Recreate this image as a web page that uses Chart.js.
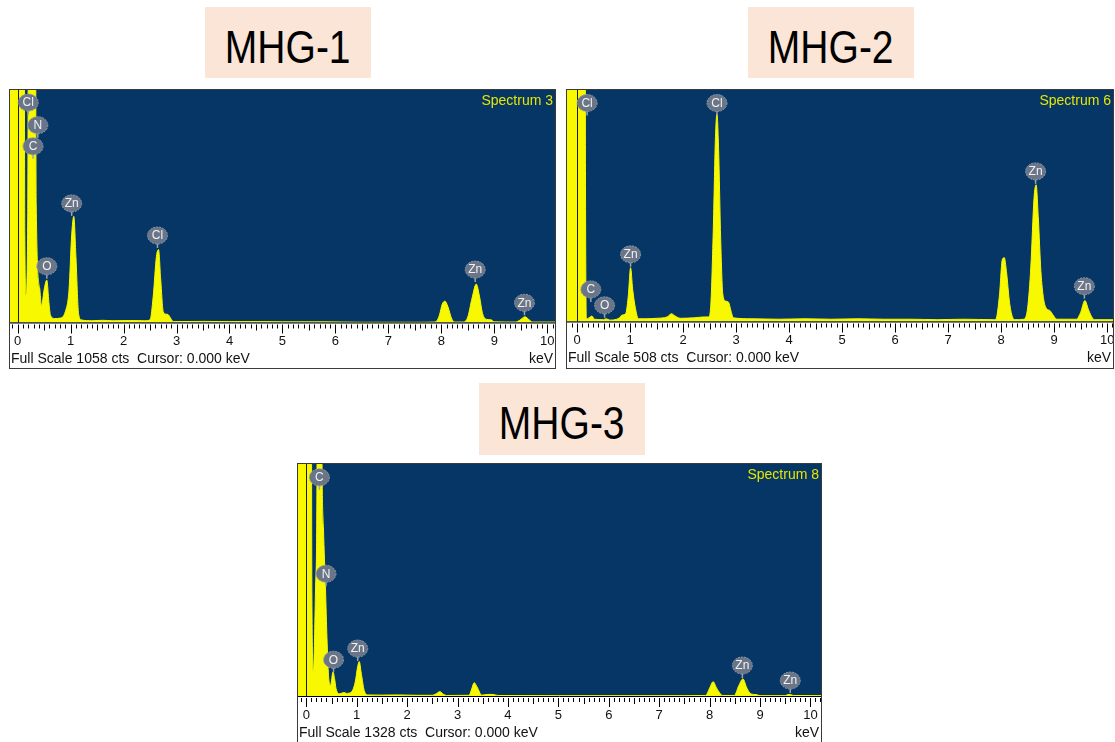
<!DOCTYPE html>
<html>
<head>
<meta charset="utf-8">
<script src="https://cdn.jsdelivr.net/npm/chart.js@4.4.1/dist/chart.umd.min.js"></script>
<style>
  body { margin: 0; width: 1115px; height: 742px; background: #fff; position: relative; overflow: hidden; }
  .title {
    position: absolute; background: #FBE5D6; width: 166px; height: 71px;
    display: flex; align-items: center; justify-content: center;
    font-family: "Liberation Sans", Arial, sans-serif;
    font-size: 47px; color: #000; padding-top: 7px; box-sizing: border-box;
  }
  .title span { display: inline-block; transform: scaleX(0.83); }
  .panel { position: absolute; border: 1px solid #3a3a3a; background: #fff; }
  .panel canvas { display: block; }
</style>
</head>
<body>
<div class="title" style="left:205px; top:7px;"><span>MHG-1</span></div>
<div class="title" style="left:748px; top:7px;"><span>MHG-2</span></div>
<div class="title" style="left:479px; top:383px; height:72px;"><span>MHG-3</span></div>

<div class="panel" style="left:9px; top:89px; width:545px; height:278px;"><canvas id="spec1"></canvas></div>
<div class="panel" style="left:566px; top:89px; width:546px; height:278px;"><canvas id="spec2"></canvas></div>
<div class="panel" style="left:297px; top:463px; width:523px; height:278px;"><canvas id="spec3"></canvas></div>

<script>
// MHG-1 (Spectrum 3), [keV, counts]; values above full scale are clipped peaks
const mhg1Spectrum = [
  [-0.3, 3000], [0.11, 3000], [0.135, 400], [0.16, 126], [0.19, 500], [0.22, 3000],
  [0.32, 3000], [0.35, 535], [0.415, 157], [0.45, 75], [0.5, 150], [0.55, 193],
  [0.59, 90], [0.62, 33], [0.7, 18], [0.8, 20], [0.9, 50], [0.97, 150],
  [1.02, 400], [1.06, 483], [1.1, 300], [1.15, 40], [1.2, 12], [1.4, 8],
  [1.6, 10], [1.8, 8], [2.1, 9], [2.4, 8], [2.5, 12], [2.56, 120],
  [2.62, 300], [2.66, 332], [2.7, 200], [2.75, 48], [2.8, 38], [2.84, 36],
  [2.9, 15], [2.94, 4], [3.5, 5], [4.0, 4], [4.5, 4], [5.0, 3], [5.8, 3],
  [6.5, 1], [7.5, 1], [7.88, 2], [7.96, 30], [8.02, 85], [8.07, 97], [8.12, 75],
  [8.2, 15], [8.26, 2], [8.42, 2], [8.5, 25], [8.58, 110], [8.66, 175],
  [8.72, 120], [8.78, 40], [8.86, 14], [8.94, 12], [9.0, 3], [9.4, 2],
  [9.48, 10], [9.58, 26], [9.66, 12], [9.72, 2], [10.3, 2]
];
const mhg1Labels = [
  ['Cl', 0.2, 944], ['N', 0.38, 841], ['C', 0.29, 745], ['O', 0.55, 199],
  ['Zn', 1.02, 485], ['Cl', 2.64, 339], ['Zn', 8.64, 184], ['Zn', 9.57, 33]
];

// MHG-2 (Spectrum 6)
const mhg2Spectrum = [
  [-0.3, 2000], [0.14, 2000], [0.16, 300], [0.18, 6], [0.25, 10], [0.28, 12],
  [0.33, 5], [0.5, 4], [0.55, 6], [0.62, 3], [0.75, 5], [0.8, 8], [0.85, 14],
  [0.92, 18], [0.97, 60], [1.01, 118], [1.05, 70], [1.1, 30], [1.16, 6],
  [1.3, 6], [1.5, 7], [1.7, 10], [1.78, 17], [1.85, 12], [1.95, 7], [2.2, 8],
  [2.4, 10], [2.48, 10], [2.52, 30], [2.57, 200], [2.61, 400], [2.64, 455],
  [2.67, 380], [2.71, 180], [2.75, 60], [2.8, 45], [2.86, 42], [2.9, 25],
  [2.95, 8], [3.3, 6], [3.8, 5], [4.3, 6], [4.8, 5], [5.3, 6], [5.8, 5],
  [6.3, 5], [6.8, 4], [7.3, 5], [7.85, 4], [7.9, 5], [7.97, 60], [8.02, 135],
  [8.06, 140], [8.1, 110], [8.16, 40], [8.22, 8], [8.26, 4], [8.43, 5],
  [8.5, 30], [8.56, 120], [8.62, 270], [8.66, 300], [8.7, 230], [8.75, 110],
  [8.8, 50], [8.86, 28], [8.92, 24], [8.98, 14], [9.05, 5], [9.42, 5],
  [9.5, 20], [9.58, 46], [9.65, 25], [9.72, 8], [9.76, 4], [10.3, 4]
];
const mhg2Labels = [
  ['Cl', 0.19, 452], ['C', 0.26, 43], ['O', 0.52, 8], ['Zn', 1.01, 120],
  ['Cl', 2.64, 452], ['Zn', 8.65, 302], ['Zn', 9.57, 50]
];

// MHG-3 (Spectrum 8)
const mhg3Spectrum = [
  [-0.3, 4000], [0.09, 4000], [0.11, 600], [0.14, 138], [0.18, 579],
  [0.21, 1156], [0.23, 3000], [0.29, 3000], [0.31, 1400], [0.34, 962],
  [0.38, 617], [0.41, 330], [0.44, 119], [0.48, 61], [0.53, 138], [0.56, 100],
  [0.59, 42], [0.66, 13], [0.75, 20], [0.8, 15], [0.9, 25], [0.97, 80],
  [1.02, 170], [1.05, 197], [1.09, 130], [1.15, 30], [1.23, 6], [1.5, 5],
  [1.8, 6], [2.2, 4], [2.5, 4], [2.57, 12], [2.65, 25], [2.72, 10], [2.78, 3],
  [3.23, 4], [3.28, 40], [3.33, 76], [3.39, 50], [3.48, 5], [3.6, 9],
  [3.7, 9], [3.8, 3], [5.0, 2], [7.5, 2], [7.92, 3], [8.0, 45], [8.07, 82],
  [8.14, 45], [8.26, 3], [8.49, 3], [8.58, 60], [8.66, 98], [8.74, 45],
  [8.82, 12], [8.92, 8], [9.0, 2], [9.5, 2], [9.55, 8], [9.6, 9], [9.66, 3],
  [10.4, 2]
];
const mhg3Labels = [
  ['C', 0.26, 1180], ['N', 0.39, 628], ['O', 0.54, 136], ['Zn', 1.02, 200],
  ['Zn', 8.65, 103], ['Zn', 9.6, 17]
];

const PLOT_BG = '#053665';
const PEAK_YELLOW = '#F8F800';
const AXIS_FONT = '"Liberation Sans", Arial, sans-serif';

// Draws the blue plot, keV ruler, badges and footer text like the EDS software
const edsPlugin = (info) => ({
  id: 'eds',
  beforeDraw(chart) {
    const { ctx, chartArea: a } = chart;
    ctx.save();
    ctx.fillStyle = PLOT_BG;
    ctx.fillRect(a.left, a.top, a.right - a.left, a.bottom - a.top);
    ctx.restore();
  },
  afterDatasetsDraw(chart) {
    const { ctx, chartArea: a, scales } = chart;
    const xs = scales.x;
    const ys = scales.y;
    ctx.save();

    // cursor at 0 keV
    const cx = Math.round(xs.getPixelForValue(0)) + 0.5;
    ctx.strokeStyle = '#1a1a1a';
    ctx.lineWidth = 1;
    ctx.beginPath();
    ctx.moveTo(cx, a.top);
    ctx.lineTo(cx, a.bottom);
    ctx.stroke();

    // element badges
    info.labels.forEach(([el, kev, cts]) => {
      const x = xs.getPixelForValue(kev);
      const y = ys.getPixelForValue(cts);
      ctx.strokeStyle = '#9aa3ae';
      ctx.lineWidth = 1.5;
      ctx.beginPath();
      ctx.moveTo(x, y - 5);
      ctx.lineTo(x, y);
      ctx.stroke();
      ctx.beginPath();
      ctx.ellipse(x, y - 12.5, 10, 8.5, 0, 0, Math.PI * 2);
      ctx.fillStyle = '#6a7687';
      ctx.fill();
      ctx.setLineDash([2, 1]);
      ctx.lineWidth = 1;
      ctx.strokeStyle = '#8f99a6';
      ctx.stroke();
      ctx.setLineDash([]);
      ctx.fillStyle = '#f2f2f2';
      ctx.font = '12px ' + AXIS_FONT;
      ctx.textAlign = 'center';
      ctx.textBaseline = 'middle';
      ctx.fillText(el, x, y - 12);
    });

    // spectrum name
    ctx.fillStyle = '#e6e600';
    ctx.font = '14px ' + AXIS_FONT;
    ctx.textAlign = 'right';
    ctx.textBaseline = 'middle';
    ctx.fillText(info.name, a.right - 2, a.top + 11);
    ctx.restore();
  },
  afterDraw(chart) {
    const { ctx, chartArea: a, scales, width } = chart;
    const xs = scales.x;
    ctx.save();
    ctx.strokeStyle = '#000';
    ctx.lineWidth = 1;
    ctx.beginPath();
    ctx.moveTo(0, a.bottom + 0.5);
    ctx.lineTo(width, a.bottom + 0.5);
    ctx.stroke();

    // ruler: 0.1 keV minor, 0.5 mid, 1 keV major
    ctx.beginPath();
    for (let i = -5; i <= 105; i++) {
      const v = i / 10;
      if (v < xs.min || v > xs.max) continue;
      const x = Math.round(xs.getPixelForValue(v)) + 0.5;
      const len = i % 10 === 0 ? 9 : i % 5 === 0 ? 6 : 4;
      ctx.moveTo(x, a.bottom + 2);
      ctx.lineTo(x, a.bottom + 2 + len);
    }
    ctx.stroke();

    ctx.fillStyle = '#111';
    ctx.font = '13px ' + AXIS_FONT;
    ctx.textAlign = 'center';
    ctx.textBaseline = 'middle';
    for (let k = 0; k <= 10; k++) {
      ctx.fillText(String(k), xs.getPixelForValue(k), a.bottom + 19);
    }

    ctx.font = '14px ' + AXIS_FONT;
    ctx.textAlign = 'left';
    ctx.fillText('Full Scale ' + info.fullScale + ' cts  Cursor: 0.000 keV', 1, a.bottom + 37);
    ctx.textAlign = 'right';
    ctx.fillText('keV', width - 2, a.bottom + 37);
    ctx.restore();
  }
});

const makeChart = (canvasId, spectrum, labels, name, fullScale, xMin, xMax, axisH) => {
  const ctx = document.getElementById(canvasId).getContext('2d');
  return new Chart(ctx, {
    type: 'line',
    data: {
      datasets: [{
        data: spectrum.map(([x, y]) => ({ x, y })),
        borderColor: PEAK_YELLOW,
        backgroundColor: PEAK_YELLOW,
        borderWidth: 1,
        pointRadius: 0,
        fill: 'origin',
        cubicInterpolationMode: 'monotone'
      }]
    },
    options: {
      responsive: true,
      maintainAspectRatio: false,
      animation: false,
      layout: { padding: { left: 0, right: 0, top: 0, bottom: axisH } },
      plugins: { legend: { display: false }, tooltip: { enabled: false } },
      scales: {
        x: { type: 'linear', display: false, min: xMin, max: xMax },
        y: { display: false, min: 0, max: fullScale }
      }
    },
    plugins: [edsPlugin({ labels, name, fullScale })]
  });
};

makeChart('spec1', mhg1Spectrum, mhg1Labels, 'Spectrum 3', 1058, -0.145, 10.147, 45.5);
makeChart('spec2', mhg2Spectrum, mhg2Labels, 'Spectrum 6', 508, -0.189, 10.11, 46.5);
makeChart('spec3', mhg3Spectrum, mhg3Labels, 'Spectrum 8', 1328, -0.165, 10.21, 46);
</script>
</body>
</html>
